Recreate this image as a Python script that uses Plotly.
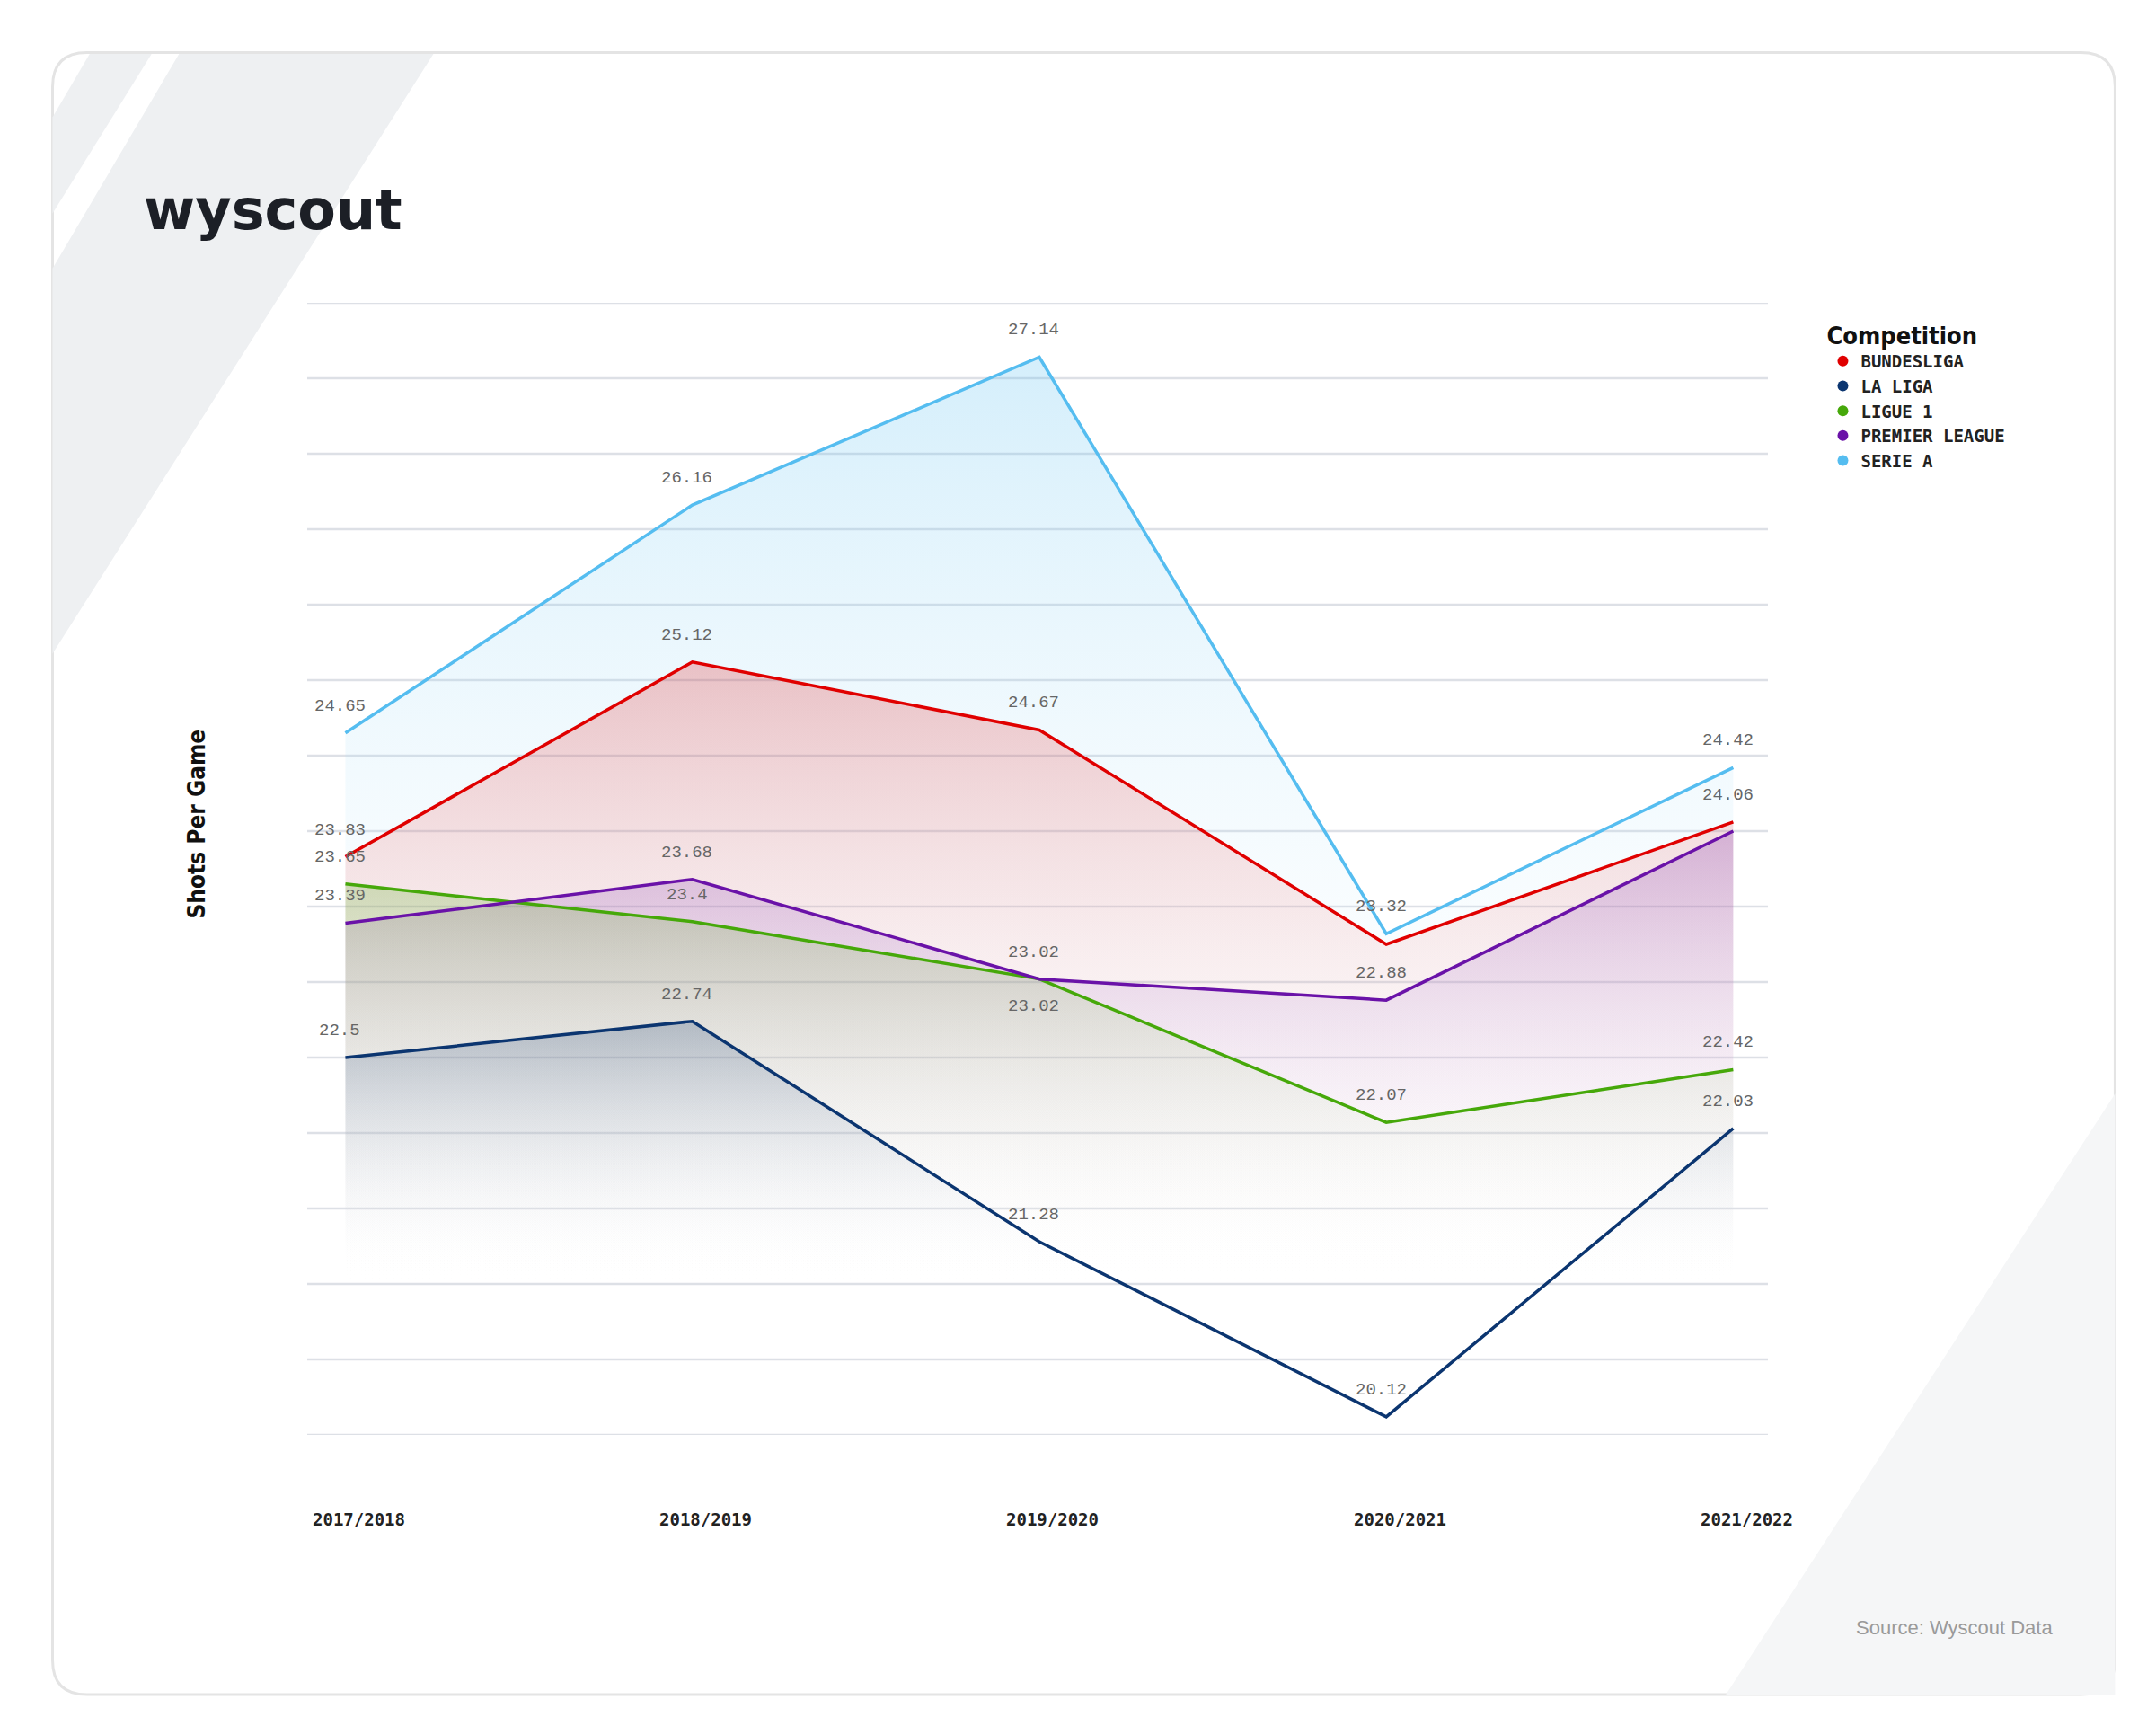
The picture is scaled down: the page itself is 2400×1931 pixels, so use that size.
import plotly.graph_objs as go

# data
seasons = ['2017/2018', '2018/2019', '2019/2020', '2020/2021', '2021/2022']
bundesliga = [23.83, 25.12, 24.67, 23.25, 24.06]
la_liga = [22.5, 22.74, 21.28, 20.12, 22.03]
ligue_1 = [23.65, 23.4, 23.02, 22.07, 22.42]
premier_league = [23.39, 23.68, 23.02, 22.88, 24.0]
serie_a = [24.65, 26.16, 27.14, 23.32, 24.42]

W, H = 2400, 1931
S = 2400 / 1568
L, R, T, B = 334, 1960, 329, 1589

def px(x):
    return (x * S - L) / (R - L)

def py(y):
    return 1 - (y * S - T) / (B - T)

series = [
    ('BUNDESLIGA', bundesliga, '#e00000', 'rgba(224,0,0,0.22)'),
    ('LA LIGA', la_liga, '#0b3570', 'rgba(11,53,112,0.22)'),
    ('LIGUE 1', ligue_1, '#46a80a', 'rgba(70,168,10,0.22)'),
    ('PREMIER LEAGUE', premier_league, '#6a12a8', 'rgba(106,18,168,0.22)'),
    ('SERIE A', serie_a, '#55bdf0', 'rgba(85,189,240,0.25)'),
]
xs = list(range(len(seasons)))

fig = go.Figure()
# fills (back to front, highest first)
for name, vals, col, fcol in [series[4], series[0], series[3], series[2], series[1]]:
    fig.add_trace(go.Scatter(x=xs, y=[20] * 5, mode='lines', line=dict(width=0),
                             showlegend=False, hoverinfo='skip'))
    fig.add_trace(go.Scatter(x=xs, y=vals, mode='lines', fill='tonexty', line=dict(width=0),
                             fillgradient=dict(type='vertical', start=21, stop=max(vals),
                                               colorscale=[[0, 'rgba(255,255,255,0)'], [1, fcol]]),
                             showlegend=False, hoverinfo='skip'))
for name, vals, col, fcol in series:
    fig.add_trace(go.Scatter(x=xs, y=vals, mode='lines', line=dict(color=col, width=3.5),
                             showlegend=False, name=name))
for name, vals, col, fcol in series:
    fig.add_trace(go.Scatter(x=[None], y=[None], mode='markers', name=f'<b>{name}</b>',
                             marker=dict(color=col, size=20)))

# point labels: (series values, index, shift)
labels = [
    (serie_a, [0, 1, 2, 3, 4], [1] * 5),
    (bundesliga, [0, 1, 2, 4], [1, 1, 1, 1]),
    (premier_league, [0, 1, 2, 3], [1, 1, 1, 1]),
    (ligue_1, [0, 1, 2, 3, 4], [1, 1, -1, 1, 1]),
    (la_liga, [0, 1, 2, 3, 4], [1, 1, 1, 1, 1]),
]
for vals, idx, sh in labels:
    for i, s in zip(idx, sh):
        fig.add_annotation(x=i, y=vals[i], text=f'{vals[i]:g}', showarrow=False,
                           yshift=30 * s, xshift=-6,
                           font=dict(size=19, color='#666666', family='Liberation Mono, DejaVu Sans Mono'))

for i, s in enumerate(seasons):
    fig.add_annotation(x=i, y=py(1108), yref='paper', text=f'<b>{s}</b>', showarrow=False,
                       xshift=15, font=dict(size=19, color='#222222', family='DejaVu Sans Mono'))

shapes = [
    dict(type='path', xref='paper', yref='paper', layer='below',
         path=f'M {px(58)},{py(33)} L {px(1508)},{py(33)} Q {px(1533)},{py(33)} {px(1533)},{py(58)} '
              f'L {px(1533)},{py(1202)} Q {px(1533)},{py(1227)} {px(1508)},{py(1227)} '
              f'L {px(58)},{py(1227)} Q {px(33)},{py(1227)} {px(33)},{py(1202)} '
              f'L {px(33)},{py(58)} Q {px(33)},{py(33)} {px(58)},{py(33)} Z',
         fillcolor='white', line=dict(color='#e4e4e4', width=3)),
    dict(type='path', xref='paper', yref='paper', layer='below',
         path=f'M {px(125)},{py(34)} L {px(310)},{py(34)} L {px(33)},{py(470)} L {px(33)},{py(190)} Z',
         fillcolor='#eef0f2', line=dict(width=0)),
    dict(type='path', xref='paper', yref='paper', layer='below',
         path=f'M {px(60)},{py(34)} L {px(105)},{py(34)} L {px(33)},{py(150)} L {px(33)},{py(80)} Z',
         fillcolor='#eef0f2', line=dict(width=0)),
    dict(type='path', xref='paper', yref='paper', layer='below',
         path=f'M {px(1533)},{py(790)} L {px(1533)},{py(1227)} L {px(1250)},{py(1227)} Z',
         fillcolor='#f5f6f7', line=dict(width=0)),
]
for k in range(16):
    yv = 20 + 0.5 * k
    shapes.append(dict(type='line', xref='paper', yref='y', x0=0, x1=1, y0=yv, y1=yv,
                       layer='below', line=dict(color='#dde0e6', width=2.5)))

fig.add_annotation(x=px(98), y=py(122), xref='paper', yref='paper', xanchor='left',
                   text='<b>wyscout</b>', showarrow=False,
                   font=dict(size=62, color='#1c1f26', family='DejaVu Sans'))
fig.add_annotation(x=px(127), y=py(594), xref='paper', yref='paper', textangle=-90,
                   text='<b>Shots Per Game</b>', showarrow=False,
                   font=dict(size=26, color='#111111', family='DejaVu Sans Condensed'))
fig.add_annotation(x=px(1489), y=py(1188), xref='paper', yref='paper', xanchor='right',
                   text='Source: Wyscout Data', showarrow=False,
                   font=dict(size=22, color='#9a9a9a', family='Liberation Sans'))

fig.update_layout(
    width=W, height=H, margin=dict(l=L, r=W - R, t=T, b=H - B),
    paper_bgcolor='white', plot_bgcolor='rgba(0,0,0,0)',
    shapes=shapes,
    xaxis=dict(range=[-0.11, 4.1], showgrid=False, showticklabels=False, zeroline=False),
    yaxis=dict(range=[20, 27.5], showgrid=False, showticklabels=False, zeroline=False),
    legend=dict(x=px(1322), y=py(222), xanchor='left', yanchor='top', traceorder='normal',
                title=dict(text='<b>Competition</b>', font=dict(size=27, color='#111111',
                                                              family='DejaVu Sans Condensed')),
                font=dict(size=19, color='#222222', family='DejaVu Sans Mono'),
                tracegroupgap=4, itemsizing='constant', bgcolor='rgba(0,0,0,0)'),
)

fig.write_html('out.html')
